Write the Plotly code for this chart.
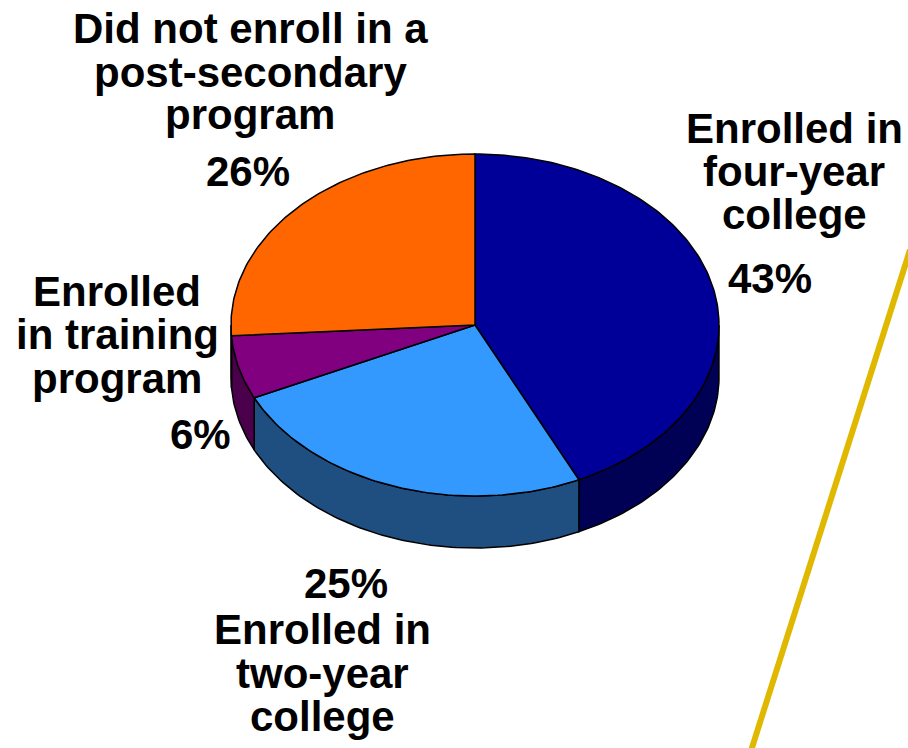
import numpy as np
import plotly.graph_objects as go

# Post-secondary outcomes (percent of students)
categories = ["Enrolled in four-year college", "Enrolled in two-year college",
              "Enrolled in training program", "Did not enroll in a post-secondary program"]
shares = [43, 25, 6, 26]
top_colors = ["#000099", "#3399FF", "#800080", "#FF6600"]
side_colors = ["#000055", "#1F4F80", "#4A004A", "#993D00"]

# label lines: (text lines, x centre, y centres)
label_lines = [
    (["Enrolled in", "four-year", "college"], 794, [128, 171, 214]),
    (["Enrolled in", "two-year", "college"], 322, [629, 673, 716]),
    (["Enrolled", "in training", "program"], 117, [291, 334, 378]),
    (["Did not enroll in a", "post-secondary", "program"], 250, [28, 72, 114]),
]
pct_pos = [(770, 278), (346, 583), (200, 434), (248, 171)]

W, H = 908, 748
CX, CY = 475, 325      # pie centre
RX, RY = 244, 171      # ellipse radii of the tilted top face
DEPTH = 52             # thickness of the pie

def ellipse_pts(t0, t1, dy=0.0, n=None):
    if n is None:
        n = max(2, int(abs(t1 - t0) / 1.0) + 2)
    t = np.radians(np.linspace(t0, t1, n))
    return CX + RX * np.sin(t), CY - RY * np.cos(t) + dy

fig = go.Figure()

total = float(sum(shares))
bounds = np.concatenate([[0.0], np.cumsum(shares) / total * 360.0])

# side walls (front half only: angles 90..270 measured clockwise from top)
for i in range(len(shares)):
    s0, s1 = max(bounds[i], 90.0), min(bounds[i + 1], 270.0)
    if s1 <= s0:
        continue
    xt, yt = ellipse_pts(s0, s1)
    xb, yb = ellipse_pts(s0, s1, dy=DEPTH)
    xs = np.concatenate([xt, xb[::-1], xt[:1]])
    ys = np.concatenate([yt, yb[::-1], yt[:1]])
    fig.add_trace(go.Scatter(x=xs, y=ys, mode="lines", fill="toself",
                             fillcolor=side_colors[i],
                             line=dict(color="black", width=1.5),
                             hoverinfo="skip", showlegend=False))

# top faces
for i in range(len(shares)):
    xa, ya = ellipse_pts(bounds[i], bounds[i + 1])
    xs = np.concatenate([[CX], xa, [CX]])
    ys = np.concatenate([[CY], ya, [CY]])
    fig.add_trace(go.Scatter(x=xs, y=ys, mode="lines", fill="toself",
                             fillcolor=top_colors[i],
                             line=dict(color="black", width=1.5),
                             name=categories[i], text=f"{shares[i]}%",
                             hoverinfo="name+text", showlegend=False))

font = dict(family="Liberation Sans, Arial, sans-serif", size=42, color="black")
for (lines, xc, ycs), (px, py), v in zip(label_lines, pct_pos, shares):
    for txt, yc in zip(lines, ycs):
        fig.add_annotation(x=xc, y=yc, text=f"<b>{txt}</b>", showarrow=False,
                           xanchor="center", yanchor="middle", font=font)
    fig.add_annotation(x=px, y=py, text=f"<b>{v}%</b>", showarrow=False,
                       xanchor="center", yanchor="middle", font=font)

# decorative gold rule on the right
fig.add_shape(type="line", x0=910, y0=250, x1=750, y1=754,
              line=dict(color="#E0B800", width=6), layer="above")

fig.update_layout(
    width=W, height=H, margin=dict(l=0, r=0, t=0, b=0),
    paper_bgcolor="white", plot_bgcolor="white",
    xaxis=dict(range=[0, W], visible=False, fixedrange=True),
    yaxis=dict(range=[H, 0], visible=False, fixedrange=True),
)

fig.write_html("out.html")
